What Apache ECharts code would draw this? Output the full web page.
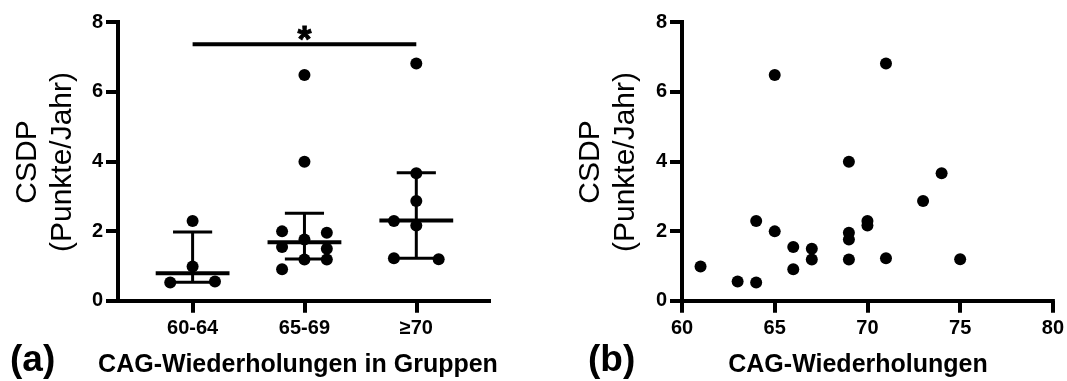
<!DOCTYPE html>
<html>
<head>
<meta charset="utf-8">
<script src="https://cdn.jsdelivr.net/npm/echarts@6/dist/echarts.min.js"></script>
<style>
html,body{margin:0;padding:0;background:#fff;}
#chart{width:1067px;height:381px;}
</style>
</head>
<body>
<div id="chart"></div>
<script>
// ---- data ----
const groups = ['60-64', '65-69', '≥70'];
const groupValues = [
  [2.29, 0.98, 0.52, 0.55],
  [6.48, 3.99, 1.99, 1.95, 1.76, 1.54, 1.49, 1.18, 1.18, 0.90],
  [6.81, 3.66, 2.86, 2.29, 2.16, 1.22, 1.19]
];
// beeswarm slot of each dot: -1 left, 0 centre, 1 right
const groupSlots = [
  [0, 0, -1, 1],
  [0, 0, -1, 1, 0, -1, 1, 0, 1, -1],
  [0, 0, 0, -1, 0, -1, 1]
];
const medians = [0.79, 1.68, 2.30];
const lowerBars = [0.53, 1.20, 1.22];
const upperBars = [1.97, 2.51, 3.67];
const sigFromTo = [0, 2];
const sigLevel = 7.36;
const sigText = '*';

const cagRepeats = [61, 63, 64, 64, 65, 65, 66, 66, 67, 67, 69, 69, 69, 69, 70, 70, 71, 71, 73, 74, 75];
const csdp = [0.98, 0.55, 0.52, 2.29, 6.48, 1.99, 1.54, 0.90, 1.49, 1.18, 3.99, 1.95, 1.76, 1.18, 2.29, 2.16, 6.81, 1.22, 2.86, 3.66, 1.19];

const yTitle = 'CSDP\n(Punkte/Jahr)';
const xTitleA = 'CAG-Wiederholungen in Gruppen';
const xTitleB = 'CAG-Wiederholungen';
const panelA = '(a)';
const panelB = '(b)';

// ---- build ----
const FONT = '"Liberation Sans", Arial, Helvetica, sans-serif';
const slotStep = 0.2;
const dotsA = [];
groupValues.forEach((vals, g) => vals.forEach((v, i) => dotsA.push([g + groupSlots[g][i] * slotStep, v])));
const barsA = groups.map((_, g) => [g, medians[g], lowerBars[g], upperBars[g]]);
const dotsB = cagRepeats.map((c, i) => [c, csdp[i]]);

const axisLine = {show: true, onZero: false, lineStyle: {color: '#000', width: 4, cap: 'square'}};
const axisTick = {show: true, inside: false, length: 12, lineStyle: {color: '#000', width: 4}};
const tickLabel = {color: '#000', fontFamily: FONT, fontWeight: 'bold', fontSize: 20};

function yAxis(idx) {
  return {
    type: 'value', gridIndex: idx, min: 0, max: 8, interval: 2,
    axisLine: axisLine, axisTick: axisTick, splitLine: {show: false},
    axisLabel: Object.assign({margin: 15}, tickLabel)
  };
}

const chart = echarts.init(document.getElementById('chart'), null, {renderer: 'canvas'});
chart.setOption({
  animation: false,
  backgroundColor: '#fff',
  grid: [
    {left: 118, top: 22, width: 371, height: 278.7},
    {left: 682, top: 22, width: 373, height: 278.7}
  ],
  xAxis: [
    {
      type: 'value', gridIndex: 0, min: -0.667, max: 2.65,
      axisLine: axisLine, splitLine: {show: false},
      axisTick: Object.assign({customValues: [0, 1, 2]}, axisTick),
      axisLabel: Object.assign({customValues: [0, 1, 2], margin: 18,
        formatter: v => groups[Math.round(v)]}, tickLabel)
    },
    {
      type: 'value', gridIndex: 1, min: 60, max: 80, interval: 5,
      axisLine: axisLine, axisTick: axisTick, splitLine: {show: false},
      axisLabel: Object.assign({margin: 18}, tickLabel)
    }
  ],
  yAxis: [yAxis(0), yAxis(1)],
  graphic: [
    {type: 'text', x: 45, y: 162, rotation: Math.PI / 2,
      style: {text: yTitle, font: '30px ' + FONT, fill: '#000', align: 'center', verticalAlign: 'middle',
        textAlign: 'center', textVerticalAlign: 'middle', lineHeight: 35}},
    {type: 'text', x: 608, y: 162, rotation: Math.PI / 2,
      style: {text: yTitle, font: '30px ' + FONT, fill: '#000', align: 'center', verticalAlign: 'middle',
        textAlign: 'center', textVerticalAlign: 'middle', lineHeight: 35}},
    {type: 'text', x: 298, y: 365,
      style: {text: xTitleA, font: 'bold 25px ' + FONT, fill: '#000', align: 'center', verticalAlign: 'middle',
        textAlign: 'center', textVerticalAlign: 'middle'}},
    {type: 'text', x: 858, y: 365,
      style: {text: xTitleB, font: 'bold 25px ' + FONT, fill: '#000', align: 'center', verticalAlign: 'middle',
        textAlign: 'center', textVerticalAlign: 'middle'}},
    {type: 'text', x: 10, y: 361,
      style: {text: panelA, font: 'bold 37px ' + FONT, fill: '#000', align: 'left', verticalAlign: 'middle',
        textAlign: 'left', textVerticalAlign: 'middle'}},
    {type: 'text', x: 588, y: 361,
      style: {text: panelB, font: 'bold 37px ' + FONT, fill: '#000', align: 'left', verticalAlign: 'middle',
        textAlign: 'left', textVerticalAlign: 'middle'}}
  ],
  series: [
    {
      type: 'custom', xAxisIndex: 0, yAxisIndex: 0, data: barsA, z: 2,
      renderItem: function (params, api) {
        const x = api.value(0), med = api.value(1), lo = api.value(2), hi = api.value(3);
        const capW = 0.175, medW = 0.33;
        const pTop = api.coord([x, hi]), pBot = api.coord([x, lo]);
        const cT1 = api.coord([x - capW, hi]), cT2 = api.coord([x + capW, hi]);
        const cB1 = api.coord([x - capW, lo]), cB2 = api.coord([x + capW, lo]);
        const m1 = api.coord([x - medW, med]), m2 = api.coord([x + medW, med]);
        const st = {stroke: '#000', lineWidth: 3, fill: null};
        return {type: 'group', children: [
          {type: 'line', shape: {x1: pTop[0], y1: pTop[1], x2: pBot[0], y2: pBot[1]}, style: st},
          {type: 'line', shape: {x1: cT1[0], y1: cT1[1], x2: cT2[0], y2: cT2[1]}, style: st},
          {type: 'line', shape: {x1: cB1[0], y1: cB1[1], x2: cB2[0], y2: cB2[1]}, style: st},
          {type: 'line', shape: {x1: m1[0], y1: m1[1], x2: m2[0], y2: m2[1]}, style: {stroke: '#000', lineWidth: 4}}
        ]};
      }
    },
    {
      type: 'scatter', xAxisIndex: 0, yAxisIndex: 0, data: dotsA, symbol: 'circle', symbolSize: 12,
      itemStyle: {color: '#000', opacity: 1}, z: 3
    },
    {
      type: 'line', xAxisIndex: 0, yAxisIndex: 0, data: sigFromTo.map(g => [g, sigLevel]),
      symbol: 'none', lineStyle: {color: '#000', width: 4}, z: 3
    },
    {
      type: 'scatter', xAxisIndex: 0, yAxisIndex: 0, data: [[(sigFromTo[0] + sigFromTo[1]) / 2, sigLevel]],
      symbolSize: 1, z: 4, itemStyle: {color: '#000', opacity: 1},
      label: {show: true, formatter: sigText, position: 'top', distance: -16, color: '#000', opacity: 1,
        textBorderWidth: 0.8, textBorderColor: '#000',
        fontFamily: FONT, fontWeight: 'bold', fontSize: 36}
    },
    {
      type: 'scatter', xAxisIndex: 1, yAxisIndex: 1, data: dotsB, symbol: 'circle', symbolSize: 12,
      itemStyle: {color: '#000', opacity: 1}
    }
  ]
});
</script>
</body>
</html>
